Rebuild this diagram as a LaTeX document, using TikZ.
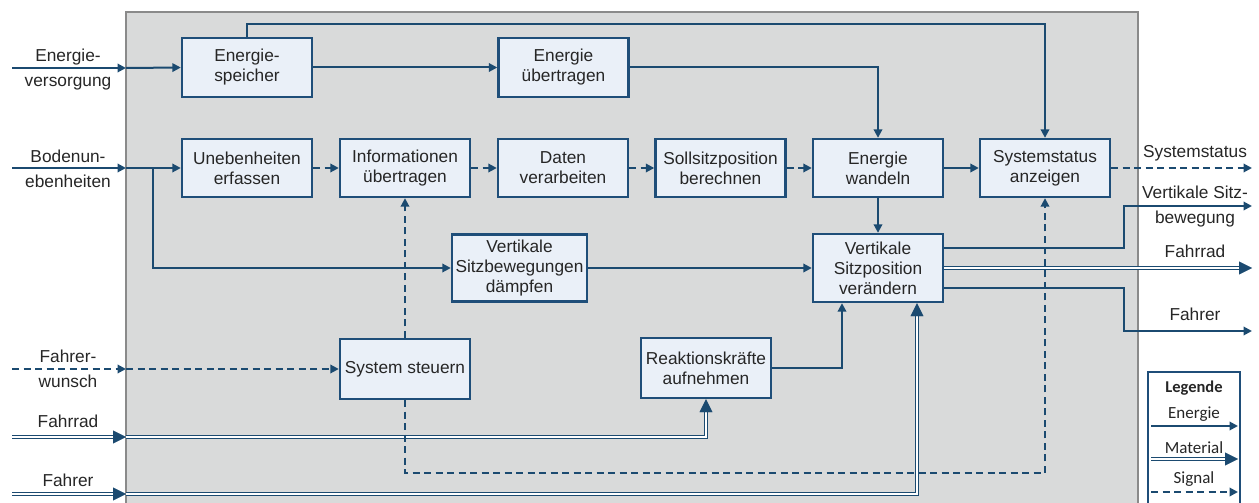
\documentclass[tikz,border=0pt]{standalone}
\usepackage{fontspec}
\setmainfont{Liberation Sans}
\newfontfamily\legfont{Carlito}
\usetikzlibrary{arrows.meta,calc}

\definecolor{lc}{HTML}{1B4A70}
\definecolor{bc}{HTML}{1F4E79}
\definecolor{boxfill}{HTML}{EAF0F8}
\definecolor{sysgray}{HTML}{D9DADA}
\definecolor{sysedge}{HTML}{8A8A8A}
\definecolor{txt}{HTML}{262626}

% material flow: double line plus a separate filled head
\newcommand\matpath[1]{\draw[matline] #1; \draw[mattip] #1;}

\begin{document}
\begin{tikzpicture}[x=1pt,y=-1pt,
  font=\fontsize{17.3}{20}\selectfont, text=txt,
  fn/.style={draw=bc, line width=2.4pt, fill=boxfill, align=center, inner sep=0pt,
             minimum width=130pt, minimum height=59pt},
  lbl/.style={align=center, inner sep=0pt},
  legtxt/.style={inner sep=0pt, anchor=base, font=\legfont\fontsize{17}{19}\selectfont},
  energy/.style={draw=lc, line width=2pt, -{Triangle[length=8.5pt,width=8.5pt]}},
  signal/.style={energy, dash pattern=on 7pt off 4.5pt},
  matline/.style={draw=lc, line width=1.4pt, double=white, double distance=1.7pt, shorten >=6pt},
  mattip/.style={draw=white, line width=0.4pt, -{Triangle[length=13pt,width=13pt,color=lc]}},
]
\useasboundingbox (0,0) rectangle (1259,503);

% system boundary
\fill[sysgray] (126,12) rectangle (1138,503);
\draw[sysedge, line width=2.2pt] (126,503) -- (126,12) -- (1138,12) -- (1138,503);

% functions
\node[fn] (esp)  at (247,67.5)   {Energie-\\speicher};
\node[fn] (eueb) at (563.5,67.5) {Energie\\übertragen};
\node[fn, minimum height=58pt] (uneb)  at (247,168)   {Unebenheiten\\erfassen};
\node[fn, minimum height=58pt] (info)  at (405,168)   {Informationen\\übertragen};
\node[fn, minimum height=58pt] (daten) at (563,168)   {Daten\\verarbeiten};
\node[fn, minimum height=58pt] (soll)  at (720.5,168) {Sollsitzposition\\berechnen};
\node[fn, minimum height=58pt] (ewan)  at (878,168)   {Energie\\wandeln};
\node[fn, minimum height=58pt] (sys)   at (1045,168)  {Systemstatus\\anzeigen};
\node[fn, minimum width=135pt, minimum height=67pt] (daempf) at (519.5,268) {Vertikale\\Sitzbewegungen\\dämpfen};
\node[fn, minimum height=68pt] (vsp) at (878,268) {Vertikale\\Sitzposition\\verändern};
\node[fn, minimum height=60pt] (steuern) at (405,369) {System steuern};
\node[fn, minimum height=60pt] (reakt)   at (706,368) {Reaktionskräfte\\aufnehmen};

% inputs
\coordinate (inE) at (12,68);  \coordinate (bE) at (126,68);
\coordinate (inB) at (12,168); \coordinate (bB) at (126,168);
\coordinate (inW) at (12,369); \coordinate (bW) at (126,369);
\coordinate (inR) at (12,437); \coordinate (bR) at (126,437);
\coordinate (inF) at (12,494); \coordinate (bF) at (126,494);
\coordinate (br)  at (153,168);

\node[lbl] (lE) at (68,70) {Energie-\\[5pt]versorgung};
\node[lbl] (lB) at (68,168.5) {Bodenun-\\[5pt]ebenheiten};
\node[lbl] (lW) at (68,368.5) {Fahrer-\\[5pt]wunsch};
\node[lbl, anchor=base] (lR) at (68,427) {Fahrrad};
\node[lbl, anchor=base] (lF) at (68,486) {Fahrer};

\draw[energy] (inE) -- (bE);
\draw[energy] (bE) -- (esp.west);
\draw[energy] (inB) -- (bB);
\draw[energy] (bB) -- (uneb.west);
\draw[energy] (br) |- (daempf.west);
\draw[signal] (inW) -- (bW);
\draw[signal] (bW) -- (steuern.west);
\matpath{(inR) -- (bR)}
\matpath{(bR) -| (reakt.south)}
\matpath{(inF) -- (bF)}
\matpath{(bF) -| ($(vsp.south)+(39,0)$)}

% energy flow
\coordinate (topr) at (1045,24);
\draw[energy] (esp.north) |- (topr) -- (sys.north);
\draw[energy] (esp.east) -- (eueb.west);
\draw[energy] (eueb.east) -| (ewan.north);
\draw[energy] (ewan.east) -- (sys.west);
\draw[energy] (ewan.south) -- (vsp.north);
\draw[energy] (daempf.east) -- (vsp.west);
\draw[energy] (reakt.east) -| ($(vsp.south)+(-36,0)$);

% signal flow
\draw[signal] (uneb.east) -- (info.west);
\draw[signal] (info.east) -- (daten.west);
\draw[signal] (daten.east) -- (soll.west);
\draw[signal] (soll.east) -- (ewan.west);
\draw[signal] (steuern.north) -- (info.south);
\coordinate (sb) at (1045,473);
\draw[signal] (steuern.south) |- (sb) -- (sys.south);

% outputs
\coordinate (oS) at (1252,168);
\coordinate (k1) at (1124,206); \coordinate (o1) at (1252,206);
\coordinate (o2) at (1252,268);
\coordinate (k3) at (1124,331); \coordinate (o3) at (1252,331);
\draw[signal] (sys.east) -- (oS);
\draw[energy] ($(vsp.east)+(0,-20)$) -| (k1) -- (o1);
\matpath{(vsp.east) -- (o2)}
\draw[energy] ($(vsp.east)+(0,20)$) -| (k3) -- (o3);

\node[lbl, anchor=base] (lS) at (1195,157) {Systemstatus};
\node[lbl] (lV) at (1195,206.5) {Vertikale Sitz-\\[5pt]bewegung};
\node[lbl, anchor=base] (lR2) at (1195,257) {Fahrrad};
\node[lbl, anchor=base] (lF2) at (1195,320) {Fahrer};

% legend
\draw[draw=bc, line width=2.2pt, fill=white] (1148,503) -- (1148,372) -- (1240,372) -- (1240,503);
\node[legtxt, font=\legfont\fontsize{16.5}{18}\selectfont\bfseries] (legT) at (1194,392) {Legende};
\node[legtxt] (legE) at (1194,418) {Energie};
\node[legtxt] (legM) at (1194,453) {Material};
\node[legtxt] (legS) at (1194,483) {Signal};
\coordinate (le1) at (1151,426); \coordinate (le2) at (1238,426);
\coordinate (lm1) at (1151,459); \coordinate (lm2) at (1238,459);
\coordinate (ls1) at (1151,492); \coordinate (ls2) at (1238,492);
\draw[energy] (le1) -- (le2);
\matpath{(lm1) -- (lm2)}
\draw[signal] (ls1) -- (ls2);
\end{tikzpicture}
\end{document}
